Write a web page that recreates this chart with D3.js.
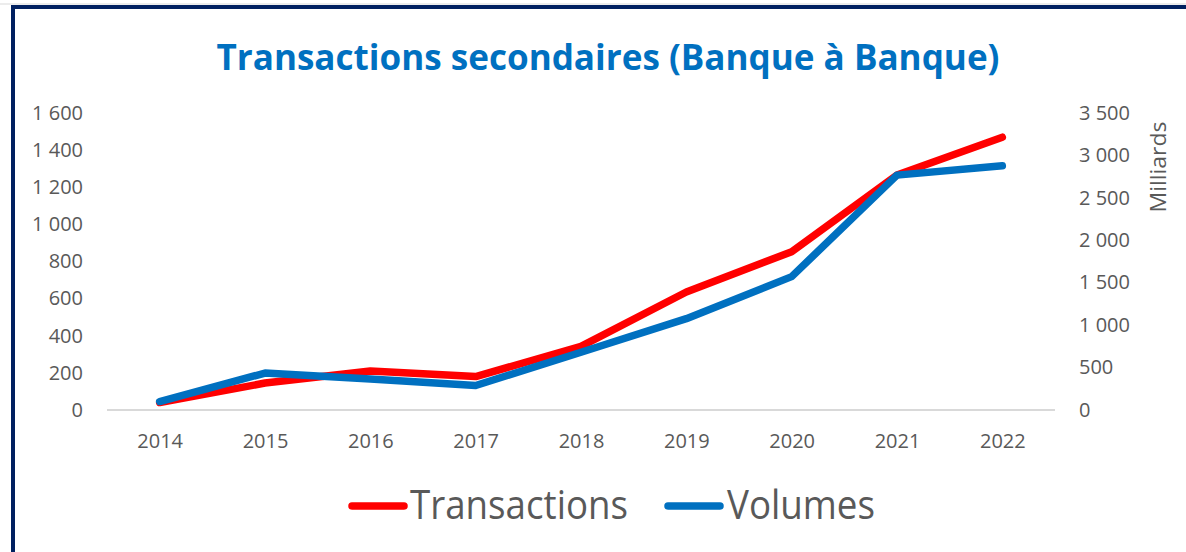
<!DOCTYPE html>
<html>
<head>
<meta charset="utf-8">
<script src="https://cdn.jsdelivr.net/npm/d3@7"></script>
<style>
  body { margin: 0; background: #fff; }
  svg { display: block; font-family: "Open Sans", "Noto Sans", sans-serif; }
</style>
</head>
<body>
<svg id="chart" width="1186" height="552"></svg>
<script>
// data
const years = ["2014", "2015", "2016", "2017", "2018", "2019", "2020", "2021", "2022"];
const transactions = [40, 145, 210, 180, 342, 635, 852, 1265, 1468];
const volumes = [100, 435, 365, 288, 680, 1075, 1570, 2765, 2875];
const leftTicks = [0, 200, 400, 600, 800, 1000, 1200, 1400, 1600];
const rightTicks = [0, 500, 1000, 1500, 2000, 2500, 3000, 3500];

const RED = "#FF0000";
const BLUE = "#0070C0";
const GREY = "#595959";

let svg = d3.select("#chart");

// frame
svg.append("line").attr("x1", 0).attr("x2", 1186).attr("y1", 4).attr("y2", 4)
  .attr("stroke", "#d9d9d9").attr("stroke-width", 1);
svg.append("rect")
  .attr("x", 13).attr("y", 7).attr("width", 1200).attr("height", 600)
  .attr("fill", "#fff").attr("stroke", "#002060").attr("stroke-width", 4);

// title
svg.append("text")
  .attr("x", 608).attr("y", 70)
  .attr("text-anchor", "middle")
  .attr("fill", BLUE)
  .attr("font-size", 35).attr("font-weight", "bold")
  .attr("textLength", 783).attr("lengthAdjust", "spacingAndGlyphs")
  .text("Transactions secondaires (Banque à Banque)");

// scales
let x = d3.scalePoint().domain(years).range([107, 1055]).padding(0.5);
let yL = d3.scaleLinear().domain([0, 1600]).range([410, 112.7]);
let yR = d3.scaleLinear().domain([0, 3500]).range([410, 112.7]);

let fmt = d => d3.format(",")(d).replace(/,/g, " ");

// left axis
let axL = svg.append("g").attr("transform", "translate(86,0)")
  .call(d3.axisLeft(yL).tickValues(leftTicks).tickSize(0).tickPadding(3).tickFormat(fmt));
axL.select(".domain").remove();
axL.selectAll("text").attr("fill", GREY).attr("font-size", 20).attr("font-family", "Open Sans");

// right axis
let axR = svg.append("g").attr("transform", "translate(1076,0)")
  .call(d3.axisRight(yR).tickValues(rightTicks).tickSize(0).tickPadding(3).tickFormat(fmt));
axR.select(".domain").remove();
axR.selectAll("text").attr("fill", GREY).attr("font-size", 20).attr("font-family", "Open Sans");

svg.append("text")
  .attr("transform", "translate(1166,167) rotate(-90)")
  .attr("text-anchor", "middle")
  .attr("fill", GREY).attr("font-size", 22)
  .attr("textLength", 91).attr("lengthAdjust", "spacingAndGlyphs")
  .text("Milliards");

// baseline + x axis
let axX = svg.append("g").attr("transform", "translate(0,410)")
  .call(d3.axisBottom(x).tickSize(0).tickPadding(24));
axX.select(".domain").attr("stroke", "#d9d9d9").attr("stroke-width", 2)
  .attr("d", "M107,0H1055");
axX.selectAll("text").attr("fill", GREY).attr("font-size", 20).attr("font-family", "Open Sans");

// lines
let lineL = d3.line().x((d, i) => x(years[i])).y(d => yL(d));
let lineR = d3.line().x((d, i) => x(years[i])).y(d => yR(d));

svg.append("path").datum(transactions)
  .attr("d", lineL).attr("fill", "none")
  .attr("stroke", RED).attr("stroke-width", 7.5)
  .attr("stroke-linecap", "round").attr("stroke-linejoin", "round");

svg.append("path").datum(volumes)
  .attr("d", lineR).attr("fill", "none")
  .attr("stroke", BLUE).attr("stroke-width", 7.5)
  .attr("stroke-linecap", "round").attr("stroke-linejoin", "round");

// legend
let legend = [
  { name: "Transactions", color: RED, x: 352, tx: 410, tl: 218 },
  { name: "Volumes", color: BLUE, x: 668, tx: 727, tl: 148 }
];
let lg = svg.append("g").selectAll("g").data(legend).enter().append("g");
lg.append("line")
  .attr("x1", d => d.x).attr("x2", d => d.x + 52)
  .attr("y1", 506).attr("y2", 506)
  .attr("stroke", d => d.color).attr("stroke-width", 7.5).attr("stroke-linecap", "round");
lg.append("text")
  .attr("x", d => d.tx).attr("y", 519)
  .attr("fill", GREY).attr("font-size", 40)
  .attr("textLength", d => d.tl).attr("lengthAdjust", "spacingAndGlyphs")
  .text(d => d.name);
</script>
</body>
</html>
